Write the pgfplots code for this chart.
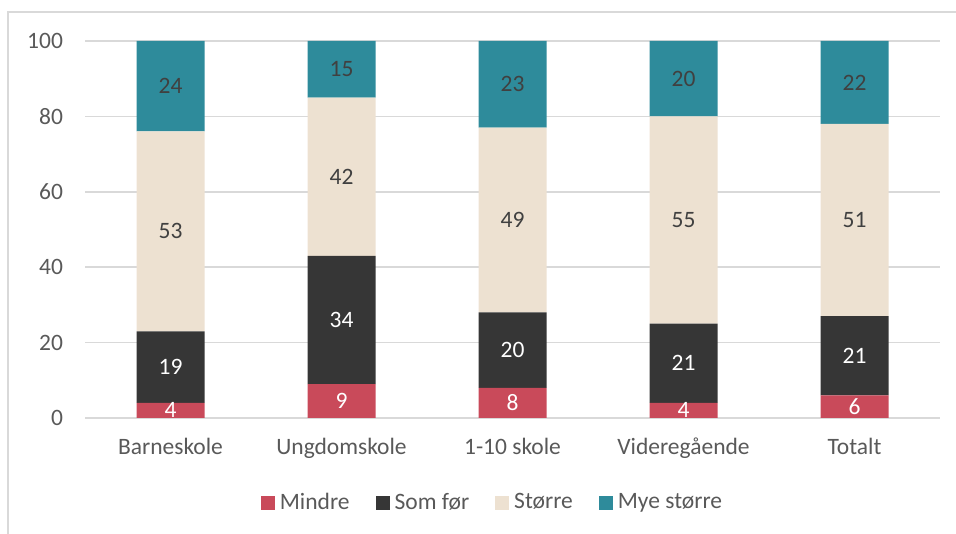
\documentclass[border=0pt]{standalone}
\usepackage{fontspec}
\setmainfont{Carlito}
\usepackage{pgfplots}
\pgfplotsset{compat=1.18}
\definecolor{cred}{HTML}{C94A5A}
\definecolor{cdark}{HTML}{363636}
\definecolor{cbeige}{HTML}{EDE1D1}
\definecolor{cteal}{HTML}{2E8B9B}
\definecolor{txt}{HTML}{595959}
\definecolor{lbl}{HTML}{404040}
\definecolor{gridc}{HTML}{D9D9D9}
\begin{document}
\fontsize{23.5pt}{27pt}\selectfont
\begin{tikzpicture}[x=1pt,y=1pt]
\useasboundingbox (0,0) rectangle (956,534);
\draw[gridc, line width=1.2pt] (8,0) -- (8,522) -- (956,522);
\begin{axis}[
  at={(85pt,116pt)}, anchor=south west,
  scale only axis, width=855pt, height=377pt,
  ybar stacked, bar width=68pt,
  xmin=-0.5, xmax=4.5, ymin=0, ymax=100,
  xtick={0,1,2,3,4},
  xticklabels={Barneskole,Ungdomskole,1-10 skole,Videregående,Totalt},
  ytick={0,20,40,60,80,100},
  ymajorgrids, grid style={gridc, line width=1.5pt},
  axis line style={draw=none},
  major tick length=0pt,
  tick label style={font=\fontsize{23.5pt}{27pt}\selectfont, text=txt},
  /pgf/number format/assume math mode=true,
  yticklabel style={xshift=-14pt},
  xticklabel style={yshift=-12pt},
  point meta=explicit,
  nodes near coords,
  nodes near coords style={anchor=center, font=\fontsize{23.5pt}{27pt}\selectfont},
  legend columns=4,
  legend style={draw=none, fill=none, at={(0.4766,-0.2255)}, anchor=center,
    font=\fontsize{23.5pt}{27pt}\selectfont, text=txt,
    /tikz/every odd column/.append style={column sep=3pt},
    /tikz/every even column/.append style={column sep=24pt}},
  legend image code/.code={\fill[#1] (0pt,-7pt) rectangle (14pt,7pt);},
]
\addplot[fill=cred, draw=none, nodes near coords style={text=white}] coordinates {(0,4) [4] (1,9) [9] (2,8) [8] (3,4) [4] (4,6) [6]};
\addlegendentry{Mindre}
\addplot[fill=cdark, draw=none, nodes near coords style={text=white}] coordinates {(0,19) [19] (1,34) [34] (2,20) [20] (3,21) [21] (4,21) [21]};
\addlegendentry{Som før}
\addplot[fill=cbeige, draw=none, nodes near coords style={text=lbl}] coordinates {(0,53) [53] (1,42) [42] (2,49) [49] (3,55) [55] (4,51) [51]};
\addlegendentry{Større}
\addplot[fill=cteal, draw=none, nodes near coords style={text=lbl}] coordinates {(0,24) [24] (1,15) [15] (2,23) [23] (3,20) [20] (4,22) [22]};
\addlegendentry{Mye større}
\end{axis}
\end{tikzpicture}
\end{document}
